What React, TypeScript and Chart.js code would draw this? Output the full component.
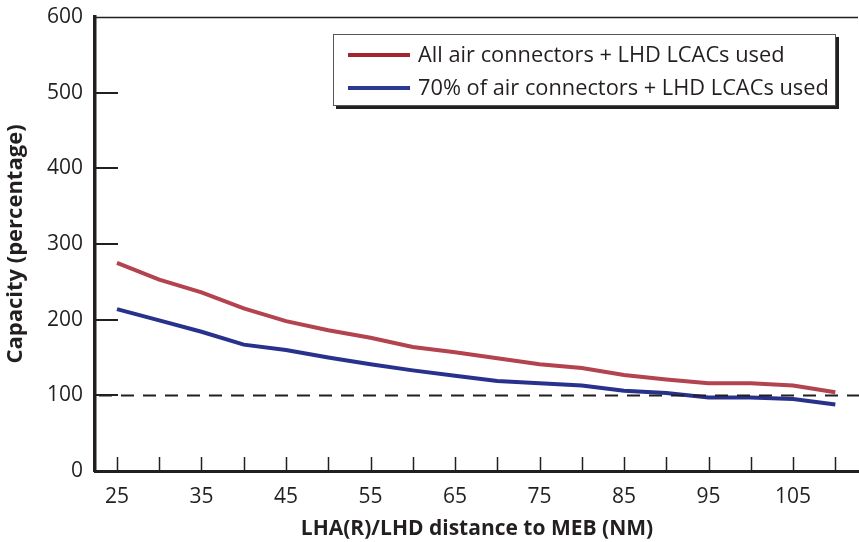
import React, { useEffect, useRef } from 'react';
import { Chart, registerables } from 'chart.js';

Chart.register(...registerables);

// ---- data ----
const distances = [25, 30, 35, 40, 45, 50, 55, 60, 65, 70, 75, 80, 85, 90, 95, 100, 105, 110];
const allConnectors = [275, 253, 236, 215, 198, 186, 176, 164, 157, 149, 141, 136, 127, 121, 116, 116, 113, 104];
const seventyPercent = [214, 199, 184, 167, 160, 150, 141, 133, 126, 119, 116, 113, 106, 103, 97, 97, 95, 88];
const seriesLabels = ['All air connectors + LHD LCACs used', '70% of air connectors + LHD LCACs used'];
const xLabelValues = [25, 35, 45, 55, 65, 75, 85, 95, 105];
const yTickValues = [0, 100, 200, 300, 400, 500, 600];
const thresholdValue = 100;
const xTitle = 'LHA(R)/LHD distance to MEB (NM)';
const yTitle = 'Capacity (percentage)';

const INK = '#231f20';
const RED = '#b3434f';
const BLUE = '#28318c';
const LEGEND_RED = '#a32530';
const LEGEND_BLUE = '#2b3990';
const FONT = "'Open Sans', 'Noto Sans', sans-serif";

const decorPlugin = {
  id: 'decor',
  afterDatasetsDraw(chart: any) {
    const { ctx, chartArea, scales } = chart;
    const x = scales.x;
    const y = scales.y;
    ctx.save();
    // top border line
    ctx.strokeStyle = INK;
    ctx.lineWidth = 1.5;
    ctx.beginPath();
    ctx.moveTo(chartArea.left, chartArea.top + 0.5);
    ctx.lineTo(chartArea.right - 1, chartArea.top + 0.5);
    ctx.stroke();

    // dashed threshold line
    const ty = Math.round(y.getPixelForValue(thresholdValue)) + 0.5;
    ctx.setLineDash([13, 9]);
    ctx.lineWidth = 2;
    ctx.beginPath();
    ctx.moveTo(chartArea.left + 4, ty);
    ctx.lineTo(chartArea.right, ty);
    ctx.stroke();
    ctx.setLineDash([]);

    // inward x ticks
    ctx.lineWidth = 1.5;
    for (const v of distances) {
      const px = Math.round(x.getPixelForValue(v)) + 0.5;
      ctx.beginPath();
      ctx.moveTo(px, chartArea.bottom);
      ctx.lineTo(px, chartArea.bottom - 14);
      ctx.stroke();
    }
    // inward y ticks
    ctx.lineWidth = 2;
    for (const v of yTickValues) {
      if (v === 0 || v === 600) continue;
      const py = Math.round(y.getPixelForValue(v));
      ctx.beginPath();
      ctx.moveTo(chartArea.left, py);
      ctx.lineTo(chartArea.left + 23, py);
      ctx.stroke();
    }

    // legend box
    const bx = 333, by = 34, bw = 503, bh = 72;
    ctx.fillStyle = INK;
    ctx.fillRect(bx + 3, by + 3, bw, bh);
    ctx.fillStyle = '#ffffff';
    ctx.fillRect(bx, by, bw, bh);
    ctx.strokeStyle = '#555555';
    ctx.lineWidth = 1;
    ctx.strokeRect(bx + 0.5, by + 0.5, bw - 1, bh - 1);

    const rows = [
      { label: seriesLabels[0], color: LEGEND_RED, yy: 55 },
      { label: seriesLabels[1], color: LEGEND_BLUE, yy: 88 },
    ];
    ctx.font = `21.8px ${FONT}`;
    ctx.textBaseline = 'middle';
    ctx.textAlign = 'left';
    for (const r of rows) {
      ctx.strokeStyle = r.color;
      ctx.lineWidth = 4;
      ctx.beginPath();
      ctx.moveTo(348, r.yy);
      ctx.lineTo(410, r.yy);
      ctx.stroke();
      ctx.fillStyle = INK;
      ctx.fillText(r.label, 418, r.yy + 1);
    }
    ctx.restore();
  },
};

export default function App() {
  const ref = useRef<HTMLCanvasElement | null>(null);

  useEffect(() => {
    if (!ref.current) return;
    const chart = new Chart(ref.current, {
      type: 'line',
      data: {
        labels: distances,
        datasets: [
          {
            label: seriesLabels[0],
            data: distances.map((d, i) => ({ x: d, y: allConnectors[i] })),
            borderColor: RED,
            borderWidth: 4,
            pointRadius: 0,
            tension: 0,
            fill: false,
          },
          {
            label: seriesLabels[1],
            data: distances.map((d, i) => ({ x: d, y: seventyPercent[i] })),
            borderColor: BLUE,
            borderWidth: 4,
            pointRadius: 0,
            tension: 0,
            fill: false,
          },
        ],
      },
      options: {
        animation: false,
        responsive: true,
        maintainAspectRatio: false,
        layout: { padding: { top: 17, right: 0, left: 0, bottom: 0 } },
        plugins: {
          legend: { display: false },
          tooltip: { enabled: false },
        },
        scales: {
          x: {
            type: 'linear',
            min: 22.4,
            max: 112.8,
            grid: { display: false, drawTicks: false },
            border: { display: true, width: 3, color: INK },
            afterBuildTicks: (scale: any) => {
              scale.ticks = distances.map((v) => ({ value: v }));
            },
            afterFit: (scale: any) => {
              scale.height = 71;
              scale.paddingLeft = 0;
              scale.paddingRight = 0;
            },
            ticks: {
              autoSkip: false,
              maxRotation: 0,
              padding: 13,
              color: INK,
              font: { family: FONT, size: 21 },
              callback: (v: any) => (xLabelValues.includes(Number(v)) ? String(v) : ''),
            },
            title: {
              display: true,
              text: xTitle,
              color: INK,
              font: { family: FONT, size: 21, weight: 'bold' },
              padding: { top: 0, bottom: 0 },
            },
          },
          y: {
            type: 'linear',
            min: 0,
            max: 600,
            grid: { display: false, drawTicks: false },
            border: { display: true, width: 3.5, color: INK },
            afterBuildTicks: (scale: any) => {
              scale.ticks = yTickValues.map((v) => ({ value: v }));
            },
            afterFit: (scale: any) => {
              scale.width = 95;
              scale.paddingTop = 0;
              scale.paddingBottom = 0;
            },
            ticks: {
              padding: 12,
              color: INK,
              font: { family: FONT, size: 21 },
            },
            title: {
              display: true,
              text: yTitle,
              color: INK,
              font: { family: FONT, size: 22, weight: 'bold' },
              padding: { top: 3, bottom: 0 },
            },
          },
        },
      },
      plugins: [decorPlugin],
    } as any);
    return () => chart.destroy();
  }, []);

  return (
    <div style={{ position: 'fixed', left: 0, top: 0, width: 859, height: 542, background: '#fff' }}>
      <canvas ref={ref} />
    </div>
  );
}
